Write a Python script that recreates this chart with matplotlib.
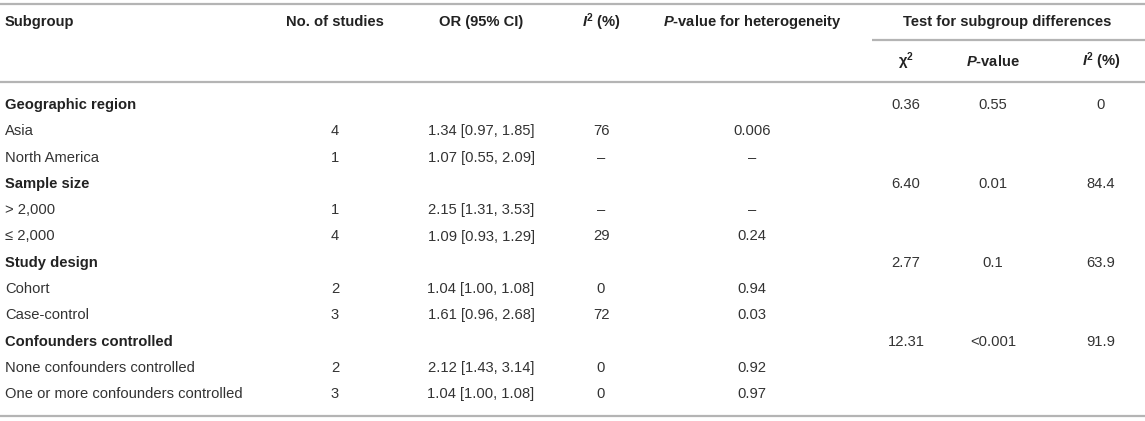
import matplotlib
matplotlib.use("Agg")
import matplotlib.pyplot as plt

plt.rcParams['font.family'] = ['Liberation Sans', 'DejaVu Sans']
plt.rcParams['mathtext.fontset'] = 'custom'
plt.rcParams['mathtext.rm'] = 'Liberation Sans'
plt.rcParams['mathtext.it'] = 'Liberation Sans:italic'
plt.rcParams['mathtext.bf'] = 'Liberation Sans:bold'
plt.rcParams['mathtext.bfit'] = 'Liberation Sans:italic:bold'

# ---- data ----
subgroups = ["Geographic region", "Asia", "North America",
             "Sample size", "> 2,000", "\u2264 2,000",
             "Study design", "Cohort", "Case-control",
             "Confounders controlled", "None confounders controlled",
             "One or more confounders controlled"]
is_heading = [True, False, False, True, False, False,
              True, False, False, True, False, False]
n_studies = ["", "4", "1", "", "1", "4", "", "2", "3", "", "2", "3"]
or_ci = ["", "1.34 [0.97, 1.85]", "1.07 [0.55, 2.09]", "",
         "2.15 [1.31, 3.53]", "1.09 [0.93, 1.29]", "",
         "1.04 [1.00, 1.08]", "1.61 [0.96, 2.68]", "",
         "2.12 [1.43, 3.14]", "1.04 [1.00, 1.08]"]
i2 = ["", "76", "\u2013", "", "\u2013", "29", "", "0", "72", "", "0", "0"]
p_het = ["", "0.006", "\u2013", "", "\u2013", "0.24", "", "0.94", "0.03",
         "", "0.92", "0.97"]
chi2 = ["0.36", "", "", "6.40", "", "", "2.77", "", "", "12.31", "", ""]
p_diff = ["0.55", "", "", "0.01", "", "", "0.1", "", "", "<0.001", "", ""]
i2_diff = ["0", "", "", "84.4", "", "", "63.9", "", "", "91.9", "", ""]

headers = ["Subgroup", "No. of studies", "OR (95% CI)",
           r"$\mathbfit{I}^{\mathbf{2}}$ (%)",
           r"$\mathbfit{P}$-value for heterogeneity"]
group_header = "Test for subgroup differences"
sub_headers = ["\u03c7$^{\\mathbf{2}}$", r"$\mathbfit{P}$-value",
               r"$\mathbfit{I}^{\mathbf{2}}$ (%)"]

# ---- layout ----
W, H = 1145, 421
fig = plt.figure(figsize=(W / 100, H / 100), dpi=100)
ax = fig.add_axes([0, 0, 1, 1])
ax.set_xlim(0, W)
ax.set_ylim(H, 0)
ax.axis("off")

fs = 10.6
txt_col = "#333333"
hdr_col = "#222222"
line_col = "#b4b4b4"

col_x = [5, 335, 481, 601, 752]
sub_x = [906, 993, 1101]

# rules
for yl in (4, 82, 416):
    ax.plot([0, W], [yl, yl], color=line_col, lw=1.6, solid_capstyle="butt")
ax.plot([872, W], [40, 40], color=line_col, lw=1.6, solid_capstyle="butt")

# headers
y_h = 22
for j, h in enumerate(headers):
    ax.text(col_x[j], y_h, h, ha="left" if j == 0 else "center", va="center",
            fontsize=fs, fontweight="bold", color=hdr_col)
ax.text(1007, y_h, group_header, ha="center", va="center",
        fontsize=fs, fontweight="bold", color=hdr_col)
for j, h in enumerate(sub_headers):
    ax.text(sub_x[j], 61, h, ha="center", va="center",
            fontsize=fs, fontweight="bold", color=hdr_col)

# body
y0, dy = 105, 26.3
for i, name in enumerate(subgroups):
    y = y0 + i * dy
    ax.text(col_x[0], y, name, ha="left", va="center", fontsize=fs,
            fontweight="bold" if is_heading[i] else "normal",
            color=hdr_col if is_heading[i] else txt_col)
    for j, col in enumerate([n_studies, or_ci, i2, p_het]):
        if col[i]:
            ax.text(col_x[j + 1], y, col[i], ha="center", va="center",
                    fontsize=fs, color=txt_col)
    for j, col in enumerate([chi2, p_diff, i2_diff]):
        if col[i]:
            ax.text(sub_x[j], y, col[i], ha="center", va="center",
                    fontsize=fs, color=txt_col)

fig.savefig("out.png", dpi=100)
